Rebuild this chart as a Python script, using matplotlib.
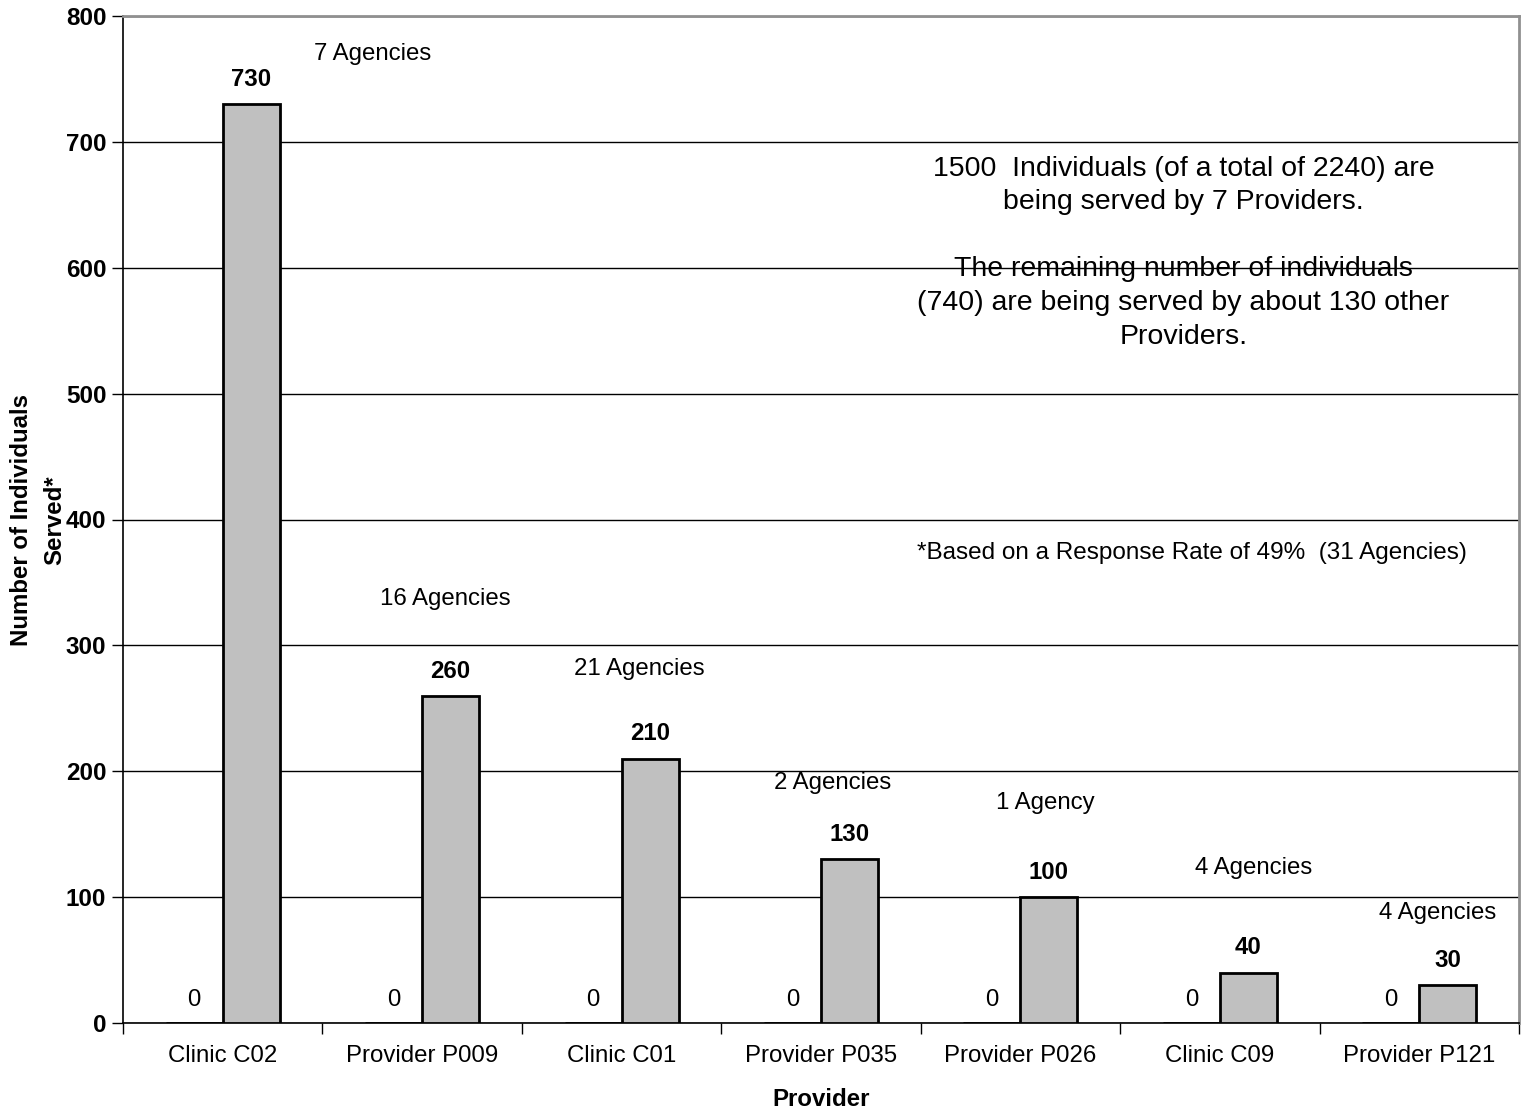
import matplotlib
matplotlib.use("Agg")
import matplotlib.pyplot as plt
import numpy as np

plt.rcParams["font.family"] = ["Liberation Sans", "DejaVu Sans"]

providers = ["Clinic C02", "Provider P009", "Clinic C01", "Provider P035",
             "Provider P026", "Clinic C09", "Provider P121"]
baseline_served = [0, 0, 0, 0, 0, 0, 0]
individuals_served = [730, 260, 210, 130, 100, 40, 30]
agency_labels = ["7 Agencies", "16 Agencies", "21 Agencies", "2 Agencies",
                 "1 Agency", "4 Agencies", "4 Agencies"]
y_ticks = [0, 100, 200, 300, 400, 500, 600, 700, 800]

FS = 17.3

fig = plt.figure(figsize=(15.21, 11.12), dpi=100)
ax = fig.add_axes([123 / 1521, 1 - 1023 / 1112, (1519 - 123) / 1521, (1023 - 16) / 1112])

x = np.arange(len(providers))
w = 2 / 7
ax.bar(x - w / 2, baseline_served, width=w, color="#C0C0C0", edgecolor="black", linewidth=2, zorder=3)
ax.bar(x + w / 2, individuals_served, width=w, color="#C0C0C0", edgecolor="black", linewidth=2, zorder=3)

for xi, v in zip(x, baseline_served):
    ax.annotate(f"{v}", (xi - w / 2, v), xytext=(0, 8.5), textcoords="offset points",
                ha="center", va="bottom", fontsize=FS)
for xi, v in zip(x, individuals_served):
    ax.annotate(f"{v}", (xi + w / 2, v), xytext=(0, 9.5), textcoords="offset points",
                ha="center", va="bottom", fontsize=FS, fontweight="bold")

# agency counts placed above each provider group
agency_pos = [(0.753, 770), (1.114, 337), (2.09, 281), (3.06, 191),
              (4.127, 175), (5.17, 123), (6.09, 87)]
for (px, py), lab in zip(agency_pos, agency_labels):
    ax.text(px, py, lab, ha="center", va="center", fontsize=FS)

ax.text(4.818, 612,
        "1500  Individuals (of a total of 2240) are\nbeing served by 7 Providers.\n\n"
        "The remaining number of individuals\n(740) are being served by about 130 other\nProviders.",
        ha="center", va="center", fontsize=20.5, linespacing=1.38, zorder=4)
ax.text(4.86, 373, "*Based on a Response Rate of 49%  (31 Agencies)",
        ha="center", va="center", fontsize=17.5)

ax.set_xlim(-0.5, len(providers) - 0.5)
ax.set_ylim(0, 800)
ax.set_yticks(y_ticks)
ax.set_yticklabels([str(t) for t in y_ticks], fontsize=17.5, fontweight="bold")
ax.yaxis.grid(True, color="black", linewidth=1)
ax.set_axisbelow(True)

ax.set_xticks(np.arange(-0.5, len(providers), 1.0))
ax.set_xticklabels([])
ax.set_xticks(x, minor=True)
ax.set_xticklabels(providers, minor=True, fontsize=FS)
ax.tick_params(axis="x", which="major", direction="out", length=8, width=1)
ax.tick_params(axis="x", which="minor", length=0, pad=16)
ax.tick_params(axis="y", direction="out", length=8, width=1, pad=4)

for s in ["left", "bottom"]:
    ax.spines[s].set_color("black")
    ax.spines[s].set_linewidth(1.2)
for s in ["top", "right"]:
    ax.spines[s].set_color("#909090")
    ax.spines[s].set_linewidth(2)

ax.set_xlabel("Provider", fontsize=FS, fontweight="bold", labelpad=15)
fig.text(38 / 1521, 1 - 520 / 1112, "Number of Individuals\nServed*", rotation=90,
         ha="center", va="center", fontsize=FS, fontweight="bold",
         multialignment="center", linespacing=1.55)

fig.savefig("out.png", dpi=100)
